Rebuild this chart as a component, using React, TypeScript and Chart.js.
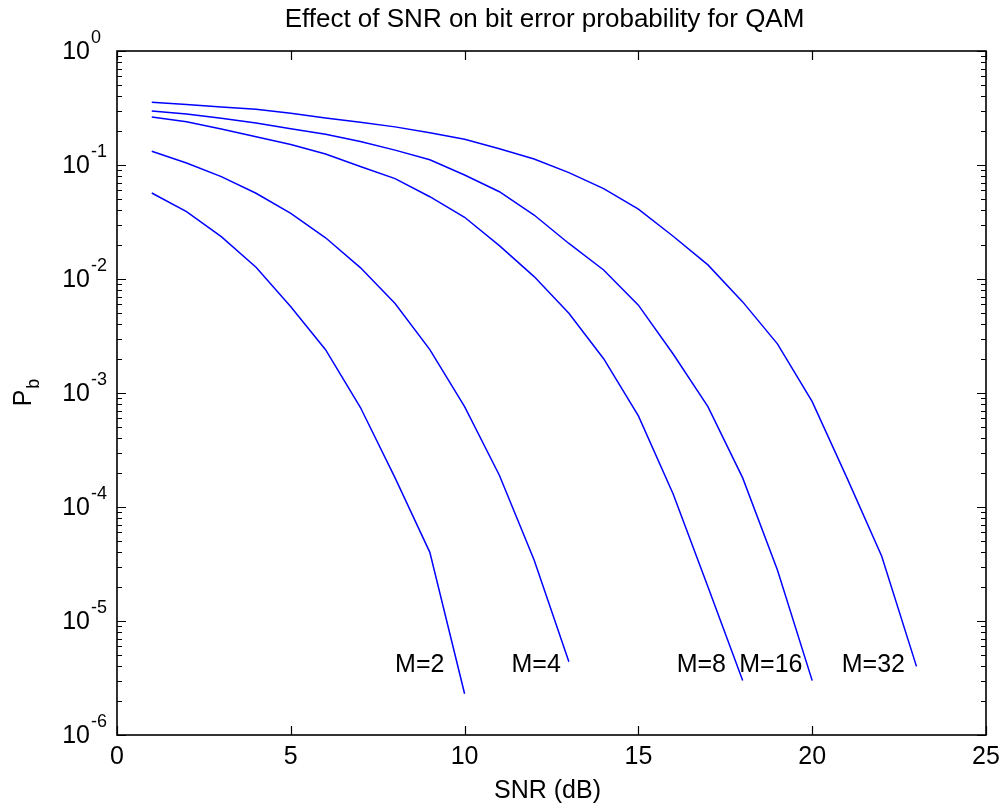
import React, { useEffect, useRef } from "react";
import { Chart, registerables } from "chart.js";

Chart.register(...registerables);

// SNR (dB) sample points for each curve
const snrM2 = [1, 2, 3, 4, 5, 6, 7, 8, 9, 10];
const snrM4 = [1, 2, 3, 4, 5, 6, 7, 8, 9, 10, 11, 12, 13];
const snrM8 = [1, 2, 3, 4, 5, 6, 7, 8, 9, 10, 11, 12, 13, 14, 15, 16, 17, 18];
const snrM16 = [1, 2, 3, 4, 5, 6, 7, 8, 9, 10, 11, 12, 13, 14, 15, 16, 17, 18, 19, 20];
const snrM32 = [1, 2, 3, 4, 5, 6, 7, 8, 9, 10, 11, 12, 13, 14, 15, 16, 17, 18, 19, 20, 21, 22, 23];

// Bit error probability values
const pbM2 = [0.0568, 0.039, 0.0235, 0.0127, 0.0057, 0.0024, 0.00075, 0.00018, 0.00004, 0.0000023];
const pbM4 = [0.132, 0.104, 0.079, 0.0565, 0.0377, 0.023, 0.0126, 0.0061, 0.0024, 0.00076, 0.00019, 0.0000343, 0.0000044];
const pbM8 = [0.264, 0.24, 0.207, 0.177, 0.151, 0.125, 0.097, 0.076, 0.0527, 0.0348, 0.0196, 0.0105, 0.005, 0.002, 0.00063, 0.00013, 0.00002, 0.000003];
const pbM16 = [0.298, 0.28, 0.257, 0.234, 0.208, 0.186, 0.161, 0.135, 0.111, 0.0817, 0.0583, 0.0364, 0.0205, 0.012, 0.0059, 0.0022, 0.00076, 0.00018, 0.000028, 0.000003];
const pbM32 = [0.355, 0.34, 0.323, 0.308, 0.284, 0.258, 0.237, 0.216, 0.192, 0.168, 0.139, 0.113, 0.0857, 0.062, 0.041, 0.0237, 0.0133, 0.0063, 0.0027, 0.00084, 0.00018, 0.000037, 0.000004];

// Axis ticks
const xTickValues = [0, 5, 10, 15, 20, 25];
const yTickExponents = [0, -1, -2, -3, -4, -5, -6];

// Curve annotations (text placed in data coordinates)
const curveLabels = ["M=2", "M=4", "M=8", "M=16", "M=32"];
const curveLabelX = [8, 11.35, 16.1, 17.9, 20.85];
const curveLabelY = [4.1e-6, 4.1e-6, 4.1e-6, 4.1e-6, 4.1e-6];

const titleText = "Effect of SNR on bit error probability for QAM";
const xAxisTitle = "SNR (dB)";

const FONT = '"Liberation Sans", Arial, Helvetica, sans-serif';
const BLUE = "#0000ff";

function toPoints(xs: number[], ys: number[]) {
  return xs.map((x, i) => ({ x, y: ys[i] }));
}

const decorPlugin = {
  id: "matlabDecor",
  afterDraw(chart: any) {
    const ctx: CanvasRenderingContext2D = chart.ctx;
    const area = chart.chartArea;
    const xs = chart.scales.x;
    const ys = chart.scales.y;
    ctx.save();

    // box
    ctx.strokeStyle = "#000";
    ctx.lineWidth = 1.6;
    ctx.strokeRect(area.left, area.top, area.right - area.left, area.bottom - area.top);

    // x ticks (inward, bottom and top)
    ctx.lineWidth = 1.2;
    ctx.beginPath();
    xTickValues.forEach((v) => {
      const px = Math.round(xs.getPixelForValue(v)) + 0.5;
      ctx.moveTo(px, area.bottom);
      ctx.lineTo(px, area.bottom - 9);
      ctx.moveTo(px, area.top);
      ctx.lineTo(px, area.top + 9);
    });
    // y ticks major/minor (inward, left and right)
    yTickExponents.forEach((e) => {
      const base = Math.pow(10, e);
      const py = Math.round(ys.getPixelForValue(base)) + 0.5;
      ctx.moveTo(area.left, py);
      ctx.lineTo(area.left + 9, py);
      ctx.moveTo(area.right, py);
      ctx.lineTo(area.right - 9, py);
      if (e < 0) {
        for (let k = 2; k <= 9; k++) {
          const pm = Math.round(ys.getPixelForValue(k * base)) + 0.5;
          ctx.moveTo(area.left, pm);
          ctx.lineTo(area.left + 5, pm);
          ctx.moveTo(area.right, pm);
          ctx.lineTo(area.right - 5, pm);
        }
      }
    });
    ctx.stroke();

    ctx.fillStyle = "#000";
    // x tick labels
    ctx.font = `25px ${FONT}`;
    ctx.textAlign = "center";
    ctx.textBaseline = "middle";
    xTickValues.forEach((v) => {
      ctx.fillText(String(v), xs.getPixelForValue(v), area.bottom + 22);
    });

    // y tick labels with superscript exponent
    yTickExponents.forEach((e) => {
      const py = ys.getPixelForValue(Math.pow(10, e));
      ctx.font = `25px ${FONT}`;
      ctx.textAlign = "right";
      ctx.textBaseline = "middle";
      ctx.fillText("10", area.left - 27, py + 1);
      ctx.font = `18px ${FONT}`;
      ctx.textAlign = "left";
      ctx.fillText(String(e), area.left - 26, py - 13);
    });

    // title
    ctx.font = `26px ${FONT}`;
    ctx.textAlign = "center";
    ctx.textBaseline = "middle";
    ctx.fillText(titleText, (area.left + area.right) / 2 - 7, 20);

    // x axis title
    ctx.font = `25px ${FONT}`;
    ctx.fillText(xAxisTitle, (area.left + area.right) / 2 - 4, area.bottom + 56);

    // y axis title P_b rotated
    ctx.save();
    ctx.translate(24, (area.top + area.bottom) / 2);
    ctx.rotate(-Math.PI / 2);
    ctx.font = `25px ${FONT}`;
    const wP = ctx.measureText("P").width;
    ctx.font = `18px ${FONT}`;
    const wb = ctx.measureText("b").width;
    const start = -(wP + wb) / 2;
    ctx.textAlign = "left";
    ctx.textBaseline = "middle";
    ctx.font = `25px ${FONT}`;
    ctx.fillText("P", start, 0);
    ctx.font = `18px ${FONT}`;
    ctx.fillText("b", start + wP + 1, 10);
    ctx.restore();

    // curve labels
    ctx.font = `25px ${FONT}`;
    ctx.textAlign = "left";
    ctx.textBaseline = "middle";
    curveLabels.forEach((t, i) => {
      ctx.fillText(t, xs.getPixelForValue(curveLabelX[i]), ys.getPixelForValue(curveLabelY[i]));
    });

    ctx.restore();
  },
};

export default function App() {
  const canvasRef = useRef<HTMLCanvasElement | null>(null);

  useEffect(() => {
    if (!canvasRef.current) return;
    const mk = (xs: number[], ys: number[], label: string) => ({
      label,
      data: toPoints(xs, ys),
      borderColor: BLUE,
      backgroundColor: BLUE,
      borderWidth: 1.5,
      pointRadius: 0,
      tension: 0,
      fill: false,
    });
    const chart = new Chart(canvasRef.current, {
      type: "line",
      data: {
        datasets: [
          mk(snrM2, pbM2, "M=2"),
          mk(snrM4, pbM4, "M=4"),
          mk(snrM8, pbM8, "M=8"),
          mk(snrM16, pbM16, "M=16"),
          mk(snrM32, pbM32, "M=32"),
        ],
      },
      options: {
        responsive: false,
        animation: false,
        events: [],
        layout: { padding: { left: 117, right: 14, top: 51, bottom: 73 } },
        plugins: {
          legend: { display: false },
          title: { display: false },
          tooltip: { enabled: false },
        },
        scales: {
          x: { type: "linear", min: 0, max: 25, display: false },
          y: { type: "logarithmic", min: 1e-6, max: 1, display: false },
        },
      },
      plugins: [decorPlugin],
    });
    return () => chart.destroy();
  }, []);

  return (
    <div style={{ position: "absolute", left: 0, top: 0, width: 1000, height: 808, background: "#fff" }}>
      <canvas ref={canvasRef} width={1000} height={808} style={{ display: "block" }} />
    </div>
  );
}
